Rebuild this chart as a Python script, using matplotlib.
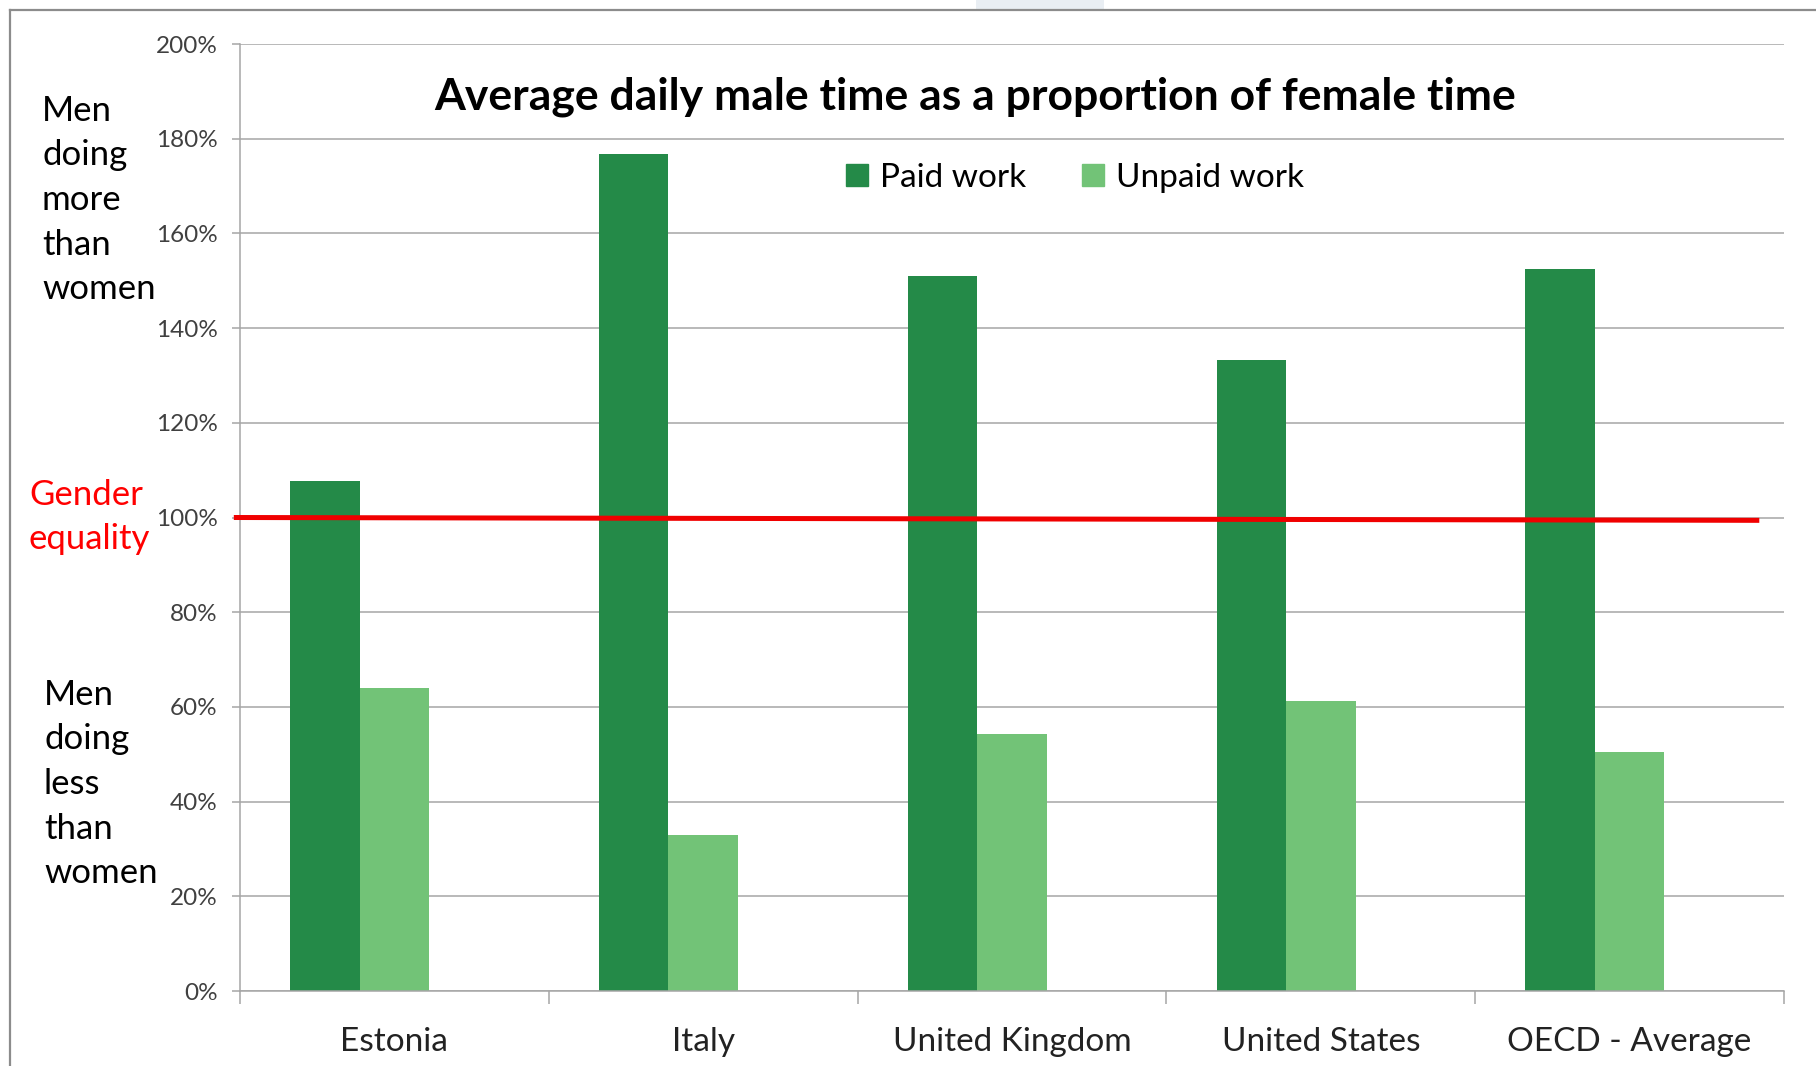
import matplotlib
matplotlib.use("Agg")
import matplotlib.pyplot as plt
import numpy as np
from matplotlib.patches import Rectangle
from matplotlib.lines import Line2D

countries = ["Estonia", "Italy", "United Kingdom", "United States", "OECD - Average"]
paid_work = [107.7, 176.7, 151.0, 133.2, 152.5]
unpaid_work = [63.9, 33.0, 54.3, 61.2, 50.4]
equality = 100
y_ticks = [0, 20, 40, 60, 80, 100, 120, 140, 160, 180, 200]

dark_green = "#248A48"
light_green = "#72C377"
grid_col = "#A6A6A6"

plt.rcParams["font.family"] = ["Lato", "DejaVu Sans"]

fig = plt.figure(figsize=(18.16, 10.66), dpi=100)
ax = fig.add_axes([240 / 1816, 1 - 991 / 1066, (1784 - 240) / 1816, (991 - 44) / 1066])

# Excel layout: an empty third series slot, so the pair sits left of centre
x = np.arange(len(countries))
w = 0.225
ax.bar(x - w, paid_work, w, color=dark_green, label="Paid work", zorder=2)
ax.bar(x, unpaid_work, w, color=light_green, label="Unpaid work", zorder=2)

ax.plot([-0.52, 4.42], [equality, equality - 0.6], color="#F00000", lw=3.6, zorder=3,
        solid_capstyle="butt", clip_on=False)

ax.set_xlim(-0.5, 4.5)
ax.set_ylim(0, 200)
ax.set_yticks(y_ticks)
ax.set_yticklabels([f"{t}%" for t in y_ticks])
ax.yaxis.grid(True, color=grid_col, lw=1.1)
ax.set_axisbelow(True)

ax.set_xticks(x)
ax.set_xticklabels(countries)
ax.set_xticks(np.arange(-0.5, 5, 1), minor=True)
ax.tick_params(axis="x", which="major", length=0, pad=26, labelsize=24, labelcolor="#222222")
ax.tick_params(axis="x", which="minor", length=9, color=grid_col, width=1.1)
ax.tick_params(axis="y", length=6, color=grid_col, width=1.1, labelsize=17.5, labelcolor="#404040", pad=10)

for s in ["top", "right"]:
    ax.spines[s].set_visible(False)
for s in ["left", "bottom"]:
    ax.spines[s].set_color(grid_col)
    ax.spines[s].set_linewidth(1.1)

fig.text(975 / 1816, 1 - 97 / 1066, "Average daily male time as a proportion of female time",
         ha="center", va="center", fontsize=32, fontweight="bold", color="black")

handles = [Rectangle((0, 0), 1, 1, color=dark_green), Rectangle((0, 0), 1, 1, color=light_green)]
fig.legend(handles, ["Paid work", "Unpaid work"], loc="center", ncol=2,
           bbox_to_anchor=(1075 / 1816, 1 - 178 / 1066), frameon=False, fontsize=24,
           handlelength=0.65, handleheight=0.65, handletextpad=0.35, columnspacing=1.7)

fig.text(42 / 1816, 1 - 200 / 1066, "Men\ndoing\nmore\nthan\nwomen", ha="left", va="center",
         fontsize=25, linespacing=1.49, color="black")
fig.text(44 / 1816, 1 - 784 / 1066, "Men\ndoing\nless\nthan\nwomen", ha="left", va="center",
         fontsize=25, linespacing=1.49, color="black")
fig.text(29 / 1816, 1 - 517 / 1066, "Gender\nequality", ha="left", va="center",
         fontsize=25, linespacing=1.47, color="#FF0000")

# frame of the slide
fig.add_artist(Line2D([10 / 1816, 10 / 1816], [0, 1 - 10 / 1066], transform=fig.transFigure,
                      color="#8C8C8C", lw=1.6))
fig.add_artist(Line2D([10 / 1816, 1], [1 - 10 / 1066, 1 - 10 / 1066], transform=fig.transFigure,
                      color="#8C8C8C", lw=1.6))
fig.add_artist(Rectangle((976 / 1816, 1 - 9 / 1066), 128 / 1816, 9 / 1066, transform=fig.transFigure,
                         color="#E9EEF3", lw=0))

fig.savefig("out.png", dpi=100)
